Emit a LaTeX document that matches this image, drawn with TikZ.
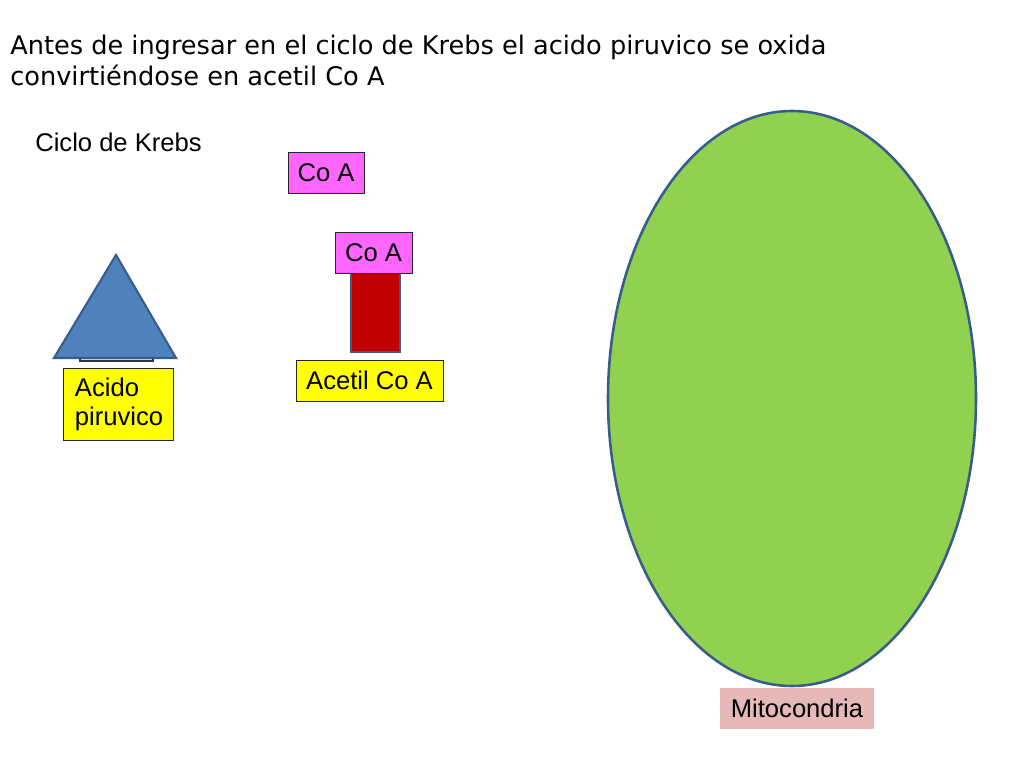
\documentclass[tikz,border=0pt]{standalone}
\usepackage{fontspec}
\setmainfont{Liberation Sans}
\newfontfamily\titlefont{DejaVu Sans}
\usetikzlibrary{shapes.geometric}
\definecolor{cmag}{HTML}{FF66FF}
\definecolor{cyel}{HTML}{FFFF00}
\definecolor{cred}{HTML}{C00000}
\definecolor{cblue}{HTML}{4F81BD}
\definecolor{cblueline}{HTML}{385D8A}
\definecolor{cgreen}{HTML}{92D050}
\definecolor{cpink}{HTML}{E6B9B8}
\tikzset{
  txt/.style={inner sep=0pt, font=\fontsize{18}{20.4}\selectfont},
  ttl/.style={inner sep=0pt, anchor=base west, font=\titlefont\fontsize{18}{21.8}\selectfont},
  box/.style={draw=black!85, line width=0.6pt, inner sep=0pt, font=\fontsize{18}{20.4}\selectfont},
}
\begin{document}
\begin{tikzpicture}[x=0.703125pt,y=-0.703125pt]
\useasboundingbox (0,0) rectangle (1024,768);
\fill[white] (0,0) rectangle (1024,768);
% title
\node[ttl] (t1) at (10,55) {Antes de ingresar en el ciclo de Krebs el acido piruvico se oxida};
\node[ttl] (t2) at (10,86) {convirtiéndose en acetil Co A};
\node[txt, anchor=west] (ciclo) at (35,142) {Ciclo de Krebs};
% Co A top
\node[box, fill=cmag, minimum width=53.44pt, minimum height=28.83pt] (coa1) at (326,172.5) {Co A};
% red rectangle
\node[draw=cblueline, line width=1.8pt, fill=cred, minimum width=34.45pt, minimum height=55.55pt, inner sep=0pt] (red) at (375.5,312.5) {};
\node[box, fill=cmag, minimum width=54.14pt, minimum height=28.83pt] (coa2) at (373.5,252.5) {Co A};
\node[box, fill=cyel, minimum width=103.36pt, minimum height=28.83pt] (acetil) at (369.5,380.5) {Acetil Co A};
% triangle with hidden rectangle
\node[draw=black!80, line width=0.8pt, fill=gray!25, minimum width=51.3pt, minimum height=14pt, inner sep=0pt] (base) at (116.5,351) {};
\fill[cblue, draw=cblueline, line width=1.5pt, line join=miter] (116,255) -- (176,358) -- (54,358) -- cycle;
\node[box, fill=cyel, minimum width=77.34pt, minimum height=50.63pt, text width=60.5pt, inner xsep=8.4pt, align=left] (acido) at (118,404) {Acido\\piruvico};
% mitochondria
\node[ellipse, draw=cblueline, line width=1.8pt, fill=cgreen, minimum width=258.75pt, minimum height=404.3pt, inner sep=0pt] (mito) at (792,398.5) {};
\node[txt, fill=cpink, minimum width=108.28pt, minimum height=28.83pt] (mitolbl) at (797,708.5) {Mitocondria};
\end{tikzpicture}
\end{document}
